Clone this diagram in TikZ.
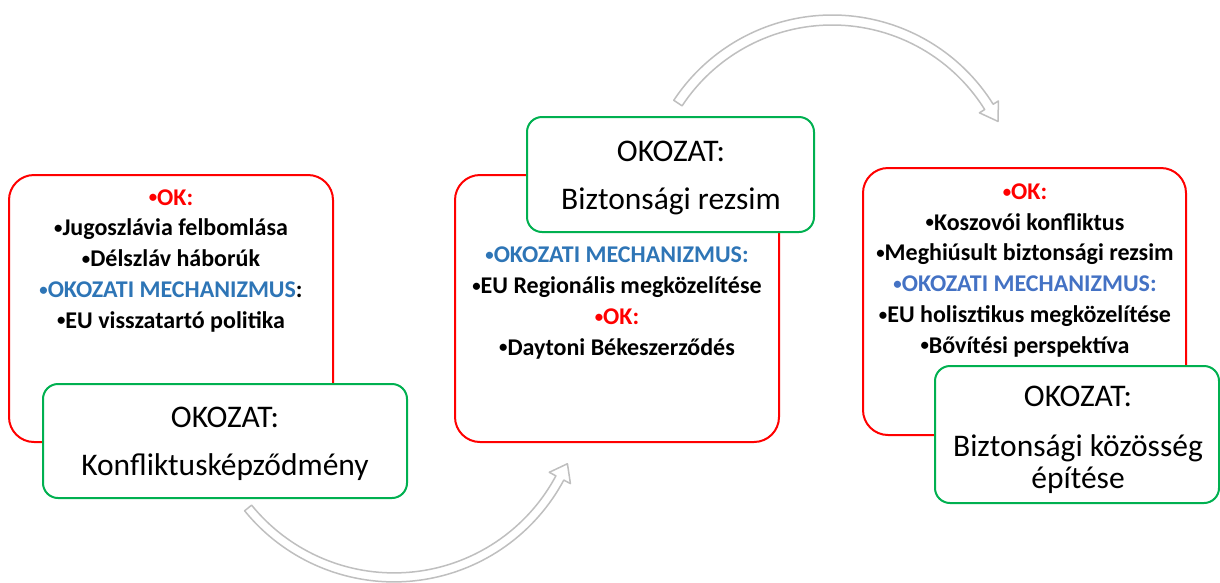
\documentclass[tikz,border=0pt]{standalone}
\usepackage{fontspec}
\setmainfont{Carlito}
\definecolor{okred}{HTML}{FF0000}
\definecolor{resgreen}{HTML}{00B050}
\definecolor{mechblue}{HTML}{2E75B6}
\definecolor{mechblueb}{HTML}{4472C4}
\newcommand{\bul}{\raisebox{2.3pt}{\scalebox{0.7}{•}}}
\begin{document}
\begin{tikzpicture}[x=1pt,y=-1pt,
  okbox/.style={draw=okred,line width=2pt,rounded corners=25pt,inner sep=0pt,
    minimum width=324pt,minimum height=267pt},
  resbox/.style={draw=resgreen,fill=white,line width=2pt,rounded corners=15pt,inner sep=0pt},
  oktext/.style={align=center,anchor=base,inner sep=0pt,
    font=\fontsize{24}{30.7}\selectfont\bfseries},
  restext/.style={align=center,anchor=base,inner sep=0pt,
    font=\fontsize{31.5}{32}\selectfont},
  bigarrow/.style={draw=gray!50,fill=white,line width=1.5pt,line join=round}]
\useasboundingbox (0,0) rectangle (1220,582);

% curved arrows
\begin{scope}[shift={(394,389.4)}]
\draw[bigarrow] (140.9:192.5) arc[start angle=140.9,end angle=28.1,radius=192.5]
  -- (28.1:200) -- (23.2:188.7) -- (28.1:176) -- (28.1:183.5)
  arc[start angle=28.1,end angle=140.9,radius=183.5] -- cycle;
\end{scope}
\begin{scope}[shift={(832.2,204.8)}]
\draw[bigarrow] (-146.6:189.8) arc[start angle=-146.6,end angle=-32,radius=189.8]
  -- (-32:196) -- (-26.7:185.6) -- (-32:173.6) -- (-32:179.8)
  arc[start angle=-32,end angle=-146.6,radius=179.8] -- cycle;
\end{scope}

% first step (base = last line)
\node[okbox] (ok1) at (171,308.5) {};
\node[resbox,minimum width=364pt,minimum height=114pt] (res1) at (225,441) {};
\node[oktext] (ok1text) at (171,328) {\textcolor{okred}{\bul OK:}\\
  \bul Jugoszlávia felbomlása\\\bul Délszláv háborúk\\
  \textcolor{mechblue}{\bul OKOZATI MECHANIZMUS}:\\\bul EU visszatartó politika};
\node[restext] (res1text) at (225,475) {OKOZAT:\\[16pt]Konfliktusképződmény};

% second step
\node[okbox] (ok2) at (617,308.5) {};
\node[resbox,minimum width=287pt,minimum height=115pt] (res2) at (670.5,174.5) {};
\node[oktext] (ok2text) at (617,355) {\textcolor{mechblue}{\bul OKOZATI MECHANIZMUS:}\\
  \bul EU Regionális megközelítése\\\textcolor{okred}{\bul OK:}\\\bul Daytoni Békeszerződés};
\node[restext] (res2text) at (671,209) {OKOZAT:\\[16pt]Biztonsági rezsim};

% third step
\node[okbox,minimum width=323pt] (ok3) at (1024.5,301.5) {};
\node[resbox,minimum width=284pt,minimum height=137pt] (res3) at (1077,434.5) {};
\node[oktext] (ok3text) at (1025,353) {\textcolor{okred}{\bul OK:}\\
  \bul Koszovói konfliktus\\\bul Meghiúsult biztonsági rezsim\\
  \textcolor{mechblueb}{\bul OKOZATI MECHANIZMUS:}\\\bul EU holisztikus megközelítése\\
  \bul Bővítési perspektíva};
\node[restext] (res3text) at (1078,488) {OKOZAT:\\[18pt]Biztonsági közösség\\építése};
\end{tikzpicture}
\end{document}
